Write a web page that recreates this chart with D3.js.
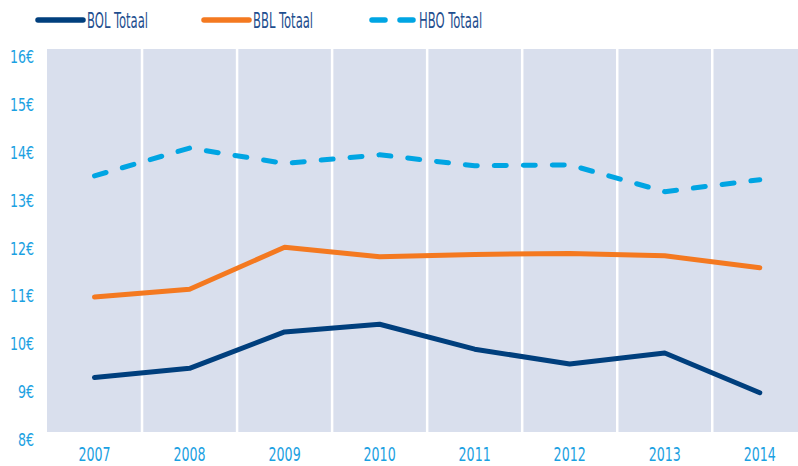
<!DOCTYPE html>
<html>
<head>
<meta charset="utf-8">
<script src="https://cdn.jsdelivr.net/npm/d3@7"></script>
<style>
  body { margin: 0; background: #fff; }
  svg { display: block; }
</style>
</head>
<body>
<div id="vis"></div>
<script>
// Chart data
const YEARS = ["2007", "2008", "2009", "2010", "2011", "2012", "2013", "2014"];
const BOL = [9.14, 9.33, 10.09, 10.25, 9.73, 9.42, 9.65, 8.82];
const BBL = [10.82, 10.98, 11.86, 11.66, 11.71, 11.73, 11.68, 11.43];
const HBO = [13.35, 13.93, 13.61, 13.79, 13.56, 13.58, 13.02, 13.27];
const Y_TICKS = [8, 9, 10, 11, 12, 13, 14, 15, 16];

const SERIES = [
  {name: "BOL Totaal", values: BOL, color: "#003f7d", dash: null},
  {name: "BBL Totaal", values: BBL, color: "#f47920", dash: null},
  {name: "HBO Totaal", values: HBO, color: "#00a5e3", dash: "12,17"}
];

// Frame
const FRAME_WIDTH = 798;
const FRAME_HEIGHT = 466;
const PLOT = {left: 47, right: 807.3, top: 49, bottom: 432};
const FONT = "'DejaVu Sans Condensed', 'DejaVu Sans', sans-serif";

const svg = d3.select("#vis")
  .append("svg")
    .attr("width", FRAME_WIDTH)
    .attr("height", FRAME_HEIGHT);

// scales
const X_SCALE = d3.scaleBand()
  .domain(YEARS)
  .range([PLOT.left, PLOT.right])
  .padding(0);

const Y_SCALE = d3.scaleLinear()
  .domain([8, 16])
  .range([PLOT.bottom, PLOT.top]);

// plot background
svg.append("rect")
  .attr("x", X_SCALE(YEARS[0]))
  .attr("y", Y_SCALE(16))
  .attr("width", PLOT.right - PLOT.left)
  .attr("height", Y_SCALE(8) - Y_SCALE(16))
  .attr("fill", "#d9dfed");

// white separators between years
svg.selectAll(".sep")
  .data(YEARS.slice(1))
  .enter()
  .append("line")
    .attr("x1", d => X_SCALE(d))
    .attr("x2", d => X_SCALE(d))
    .attr("y1", Y_SCALE(16))
    .attr("y2", Y_SCALE(8))
    .attr("stroke", "#fff")
    .attr("stroke-width", 2.5);

// y axis
const yAxis = svg.append("g")
  .attr("transform", "translate(" + (PLOT.left - 13) + ",0)")
  .call(d3.axisLeft(Y_SCALE).tickValues(Y_TICKS).tickSize(0).tickFormat(d => d + "€"));
yAxis.select(".domain").remove();
yAxis.selectAll("text")
  .attr("x", 0)
  .attr("dy", 0)
  .attr("transform", "translate(0,13.5) scale(0.78,1)")
  .attr("fill", "#1ba1e2")
  .style("font-family", FONT)
  .style("font-size", "18px");

// x axis
const xAxis = svg.append("g")
  .attr("transform", "translate(0," + PLOT.bottom + ")")
  .call(d3.axisBottom(X_SCALE).tickSize(0));
xAxis.select(".domain").remove();
xAxis.selectAll("text")
  .attr("x", 0)
  .attr("y", 0)
  .attr("dy", 0)
  .attr("transform", "translate(0,29) scale(0.74,1)")
  .attr("fill", "#1ba1e2")
  .style("font-family", FONT)
  .style("font-size", "19px");

// lines
const line = d3.line()
  .x((d, i) => X_SCALE(YEARS[i]) + X_SCALE.bandwidth() / 2)
  .y(d => Y_SCALE(d));

svg.selectAll(".series")
  .data(SERIES)
  .enter()
  .append("path")
    .attr("d", d => line(d.values))
    .attr("fill", "none")
    .attr("stroke", d => d.color)
    .attr("stroke-width", 5)
    .attr("stroke-linecap", "round")
    .attr("stroke-linejoin", "round")
    .attr("stroke-dasharray", d => d.dash);

// legend
const LEGEND_X = [38, 204, 370];
const legend = svg.selectAll(".legend")
  .data(SERIES)
  .enter()
  .append("g")
    .attr("transform", (d, i) => "translate(" + LEGEND_X[i] + ",20)");

legend.append("line")
  .attr("x1", d => d.dash ? 2 : 0)
  .attr("x2", 45)
  .attr("y1", 0)
  .attr("y2", 0)
  .attr("stroke", d => d.color)
  .attr("stroke-width", 5.5)
  .attr("stroke-linecap", "round")
  .attr("stroke-dasharray", d => d.dash ? "13,15" : null);

legend.append("text")
  .attr("transform", "translate(49,8.3) scale(0.63,1)")
  .attr("fill", "#1f4f8f")
  .style("font-family", FONT)
  .style("font-size", "20.5px")
  .text(d => d.name);
</script>
</body>
</html>
